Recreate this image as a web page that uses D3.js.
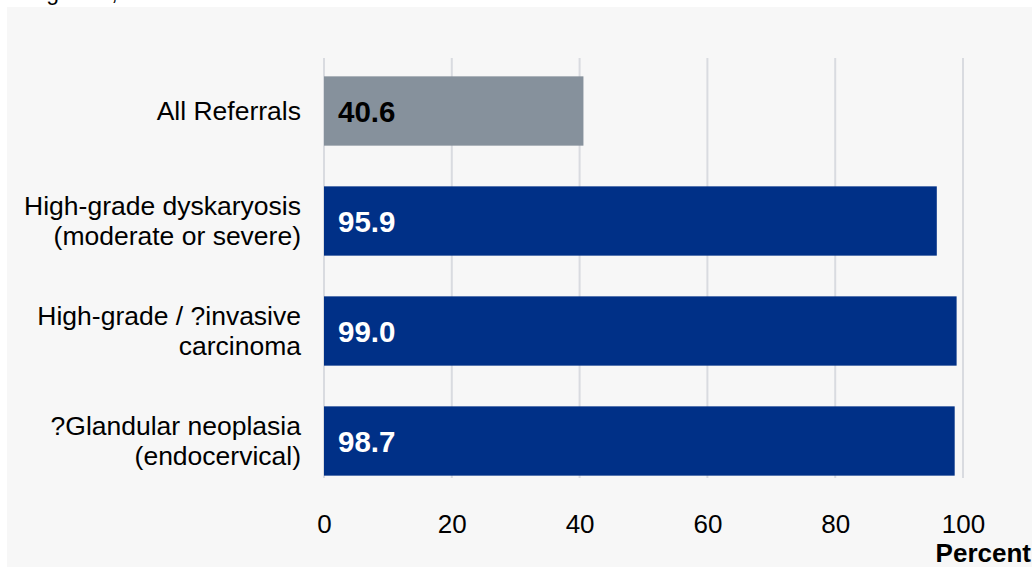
<!DOCTYPE html>
<html>
<head>
<meta charset="utf-8">
<script src="https://cdn.jsdelivr.net/npm/d3@7"></script>
<style>
  html, body { margin: 0; padding: 0; background: #ffffff; }
  svg { display: block; font-family: "Liberation Sans", Arial, sans-serif; }
</style>
</head>
<body>
<svg id="chart" width="1032" height="569"></svg>
<script>
// Referral categories (label lines) and the percentage shown on each bar
const categories = [
  ["All Referrals"],
  ["High-grade dyskaryosis", "(moderate or severe)"],
  ["High-grade / ?invasive", "carcinoma"],
  ["?Glandular neoplasia", "(endocervical)"]
];
const values = [40.6, 95.9, 99.0, 98.7];
const barColors = ["#86919c", "#003087", "#003087", "#003087"];
const labelColors = ["#000000", "#ffffff", "#ffffff", "#ffffff"];
const xTicks = [0, 20, 40, 60, 80, 100];
const xTitle = "Percent";
const figureCaption = "Figure 3,";

const svg = d3.select("#chart");
const W = 1032, H = 569;

// panel background
svg.append("rect").attr("x", 7).attr("y", 7).attr("width", W - 7).attr("height", H - 9)
  .attr("fill", "#f7f7f7");

// caption line, mostly above the visible area
svg.append("text").attr("x", 27).attr("y", 0).attr("font-size", 23).attr("fill", "#000")
  .text(figureCaption);

const x = d3.scaleLinear().domain([0, 100]).range([324, 963]);
const y = d3.scaleBand().domain(d3.range(categories.length)).range([56, 496])
  .paddingInner(0.37).paddingOuter(0.185);

// vertical gridlines
svg.append("g").selectAll("line").data(xTicks).join("line")
  .attr("x1", d => x(d)).attr("x2", d => x(d))
  .attr("y1", 58).attr("y2", 478)
  .attr("stroke", "#d9dbe0").attr("stroke-width", 2);

// x axis tick labels
const xAxis = d3.axisBottom(x).tickValues(xTicks).tickSize(0).tickPadding(0);
const gx = svg.append("g").attr("transform", "translate(0,515)").call(xAxis);
gx.select(".domain").remove();
gx.selectAll("text").attr("font-size", 26).attr("fill", "#000")
  .attr("font-family", "'Liberation Sans', Arial, sans-serif").attr("dy", "0.71em");

svg.append("text").attr("x", 1031).attr("y", 562).attr("text-anchor", "end")
  .attr("font-size", 26).attr("font-weight", "bold").attr("fill", "#000").text(xTitle);

// bars
svg.append("g").selectAll("rect").data(values).join("rect")
  .attr("x", x(0)).attr("y", (d, i) => y(i))
  .attr("width", d => x(d) - x(0)).attr("height", y.bandwidth())
  .attr("fill", (d, i) => barColors[i]);

// value labels
svg.append("g").selectAll("text").data(values).join("text")
  .attr("x", x(0) + 14).attr("y", (d, i) => y(i) + y.bandwidth() / 2)
  .attr("dy", "0.36em").attr("font-size", 29.5).attr("font-weight", "bold")
  .attr("fill", (d, i) => labelColors[i])
  .text(d => d.toFixed(1));

// category labels
const lineGap = 30;
const cat = svg.append("g").selectAll("text").data(categories).join("text")
  .attr("text-anchor", "end").attr("font-size", 26.5).attr("fill", "#000")
  .attr("y", (d, i) => y(i) + y.bandwidth() / 2 - (d.length - 1) * lineGap / 2 - 1);
cat.selectAll("tspan").data(d => d).join("tspan")
  .attr("x", 301).attr("dy", (d, j) => j === 0 ? "0.36em" : lineGap)
  .text(d => d);
</script>
</body>
</html>
